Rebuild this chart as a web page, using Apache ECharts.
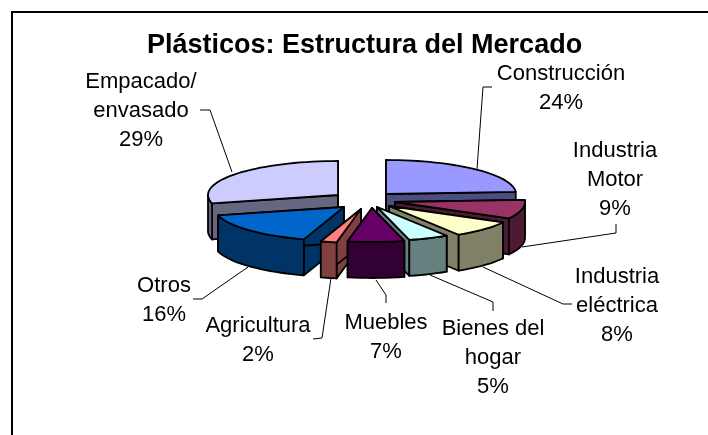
<!DOCTYPE html>
<html lang="es">
<head>
<meta charset="utf-8">
<title>Plásticos: Estructura del Mercado</title>
<script src="https://cdn.jsdelivr.net/npm/echarts@6/dist/echarts.min.js"></script>
<style>
    html, body { margin: 0; padding: 0; background: #fff; }
    #main { width: 708px; height: 435px; }
</style>
</head>
<body>
<div id="main"></div>
<script>
    // data
    var titleText = 'Plásticos: Estructura del Mercado';
    var categories = ['Construcción', 'Industria\nMotor', 'Industria\neléctrica', 'Bienes del\nhogar', 'Muebles', 'Agricultura', 'Otros', 'Empacado/\nenvasado'];
    var shares = [24, 9, 8, 5, 7, 2, 16, 29];
    var topColors = ['#9999FF', '#993366', '#FFFFCC', '#CCFFFF', '#660066', '#FF8080', '#0066CC', '#CCCCFF'];
    var sideColors = ['#4D4D80', '#4D1A33', '#808066', '#668080', '#330033', '#804040', '#003366', '#666680'];

    // look of the fake 3d pie
    var cx = 362, cy = 200, rx = 130, ry = 34, depth = 36;
    // how far each slice is pulled out of the pie (excel explosion, by hand)
    var pullX = [24, 33, 27, 15, 10, -1, -18, -24];
    var pullY = [-6, 2, 6, 7, 8, 9, 7, -5];
    // painted back to front
    var paintOrder = [7, 0, 1, 2, 6, 5, 3, 4];
    // label centre and leader line for each slice
    var labelPos = [[561, 88], [615, 180], [617, 306], [493, 358], [386, 337], [258, 340], [164, 300], [141, 111]];
    var leaders = [
        [[492, 87], [483, 87], [477, 169]],
        [[522, 247], [616, 233], [616, 224]],
        [[483, 267], [563, 304], [572, 304]],
        [[430, 275], [493, 302], [493, 311]],
        [[376, 280], [386, 295], [386, 303]],
        [[331, 278], [322, 338], [313, 339]],
        [[248, 267], [202, 299], [193, 299]],
        [[232, 172], [210, 110], [200, 110]]
    ];

    var total = shares.reduce(function (a, b) { return a + b; }, 0);

    function arcPoints(a0, a1, ox, oy) {
        var pts = [];
        var n = Math.max(2, Math.ceil((a1 - a0) / 0.05));
        for (var i = 0; i <= n; i++) {
            var a = a0 + (a1 - a0) * i / n;
            pts.push([ox + rx * Math.sin(a), oy - ry * Math.cos(a)]);
        }
        return pts;
    }

    function down(p) { return [p[0], p[1] + depth]; }

    var faceStyle = function (color) {
        return { fill: color, stroke: '#000', lineWidth: 1.8, lineJoin: 'round' };
    };

    function renderSlice(params, api) {
        var idx = params.dataIndex;
        var before = 0;
        for (var i = 0; i < idx; i++) before += shares[i];
        var a0 = before / total * Math.PI * 2;
        var a1 = (before + api.value(0)) / total * Math.PI * 2;
        var ox = cx + pullX[idx], oy = cy + pullY[idx];
        var apex = [ox, oy];
        var arc = arcPoints(a0, a1, ox, oy);
        var first = arc[0], last = arc[arc.length - 1];
        var z = paintOrder.indexOf(idx) * 10;
        var side = sideColors[idx];
        var children = [];

        function poly(points, color, zz) {
            children.push({ type: 'polygon', z2: z + zz, shape: { points: points }, style: faceStyle(color) });
        }

        // cut faces first, only the ones turned to the viewer
        if (Math.cos(a0) < 0 || a0 < Math.PI / 2) {
            poly([apex, first, down(first), down(apex)], side, 1);
        }
        poly([apex, last, down(last), down(apex)], side, 1);

        // outer wall, only the part below the middle of the ellipse can be seen
        var frontFrom = Math.max(a0, Math.PI / 2), frontTo = Math.min(a1, Math.PI * 1.5);
        if (frontTo > frontFrom) {
            var wall = arcPoints(frontFrom, frontTo, ox, oy);
            poly(wall.concat(wall.map(down).reverse()), side, 2);
        }
        poly([apex].concat(arc), topColors[idx], 3);

        return { type: 'group', children: children };
    }

    var labelGraphics = [];
    categories.forEach(function (name, i) {
        labelGraphics.push({
            type: 'polyline', z: 5, silent: true,
            shape: { points: leaders[i] },
            style: { stroke: '#000', lineWidth: 1, fill: null }
        });
        labelGraphics.push({
            type: 'text', z: 6, silent: true,
            x: labelPos[i][0], y: labelPos[i][1],
            style: {
                text: name + '\n' + shares[i] + '%',
                fill: '#000', font: '22px "Liberation Sans"',
                align: 'center', verticalAlign: 'middle', lineHeight: 29
            }
        });
    });

    var myChart = echarts.init(document.getElementById('main'), null, { renderer: 'canvas' });
    var option = {
        animation: false,
        backgroundColor: '#fff',
        title: {
            text: titleText, left: 142, top: 27,
            textStyle: { fontFamily: 'Liberation Sans', fontSize: 27, fontWeight: 'bold', color: '#000' }
        },
        graphic: [{
            // the frame is cut off by the picture, only top and left are left
            type: 'polyline', z: -1, silent: true,
            shape: { points: [[12, 435], [12, 12], [708, 12]] },
            style: { stroke: '#000', lineWidth: 2, fill: null }
        }].concat(labelGraphics),
        series: [{
            type: 'custom',
            coordinateSystem: 'none',
            renderItem: renderSlice,
            silent: true,
            data: shares.map(function (v, i) { return { name: categories[i], value: [v] }; })
        }]
    };
    myChart.setOption(option);
</script>
</body>
</html>
